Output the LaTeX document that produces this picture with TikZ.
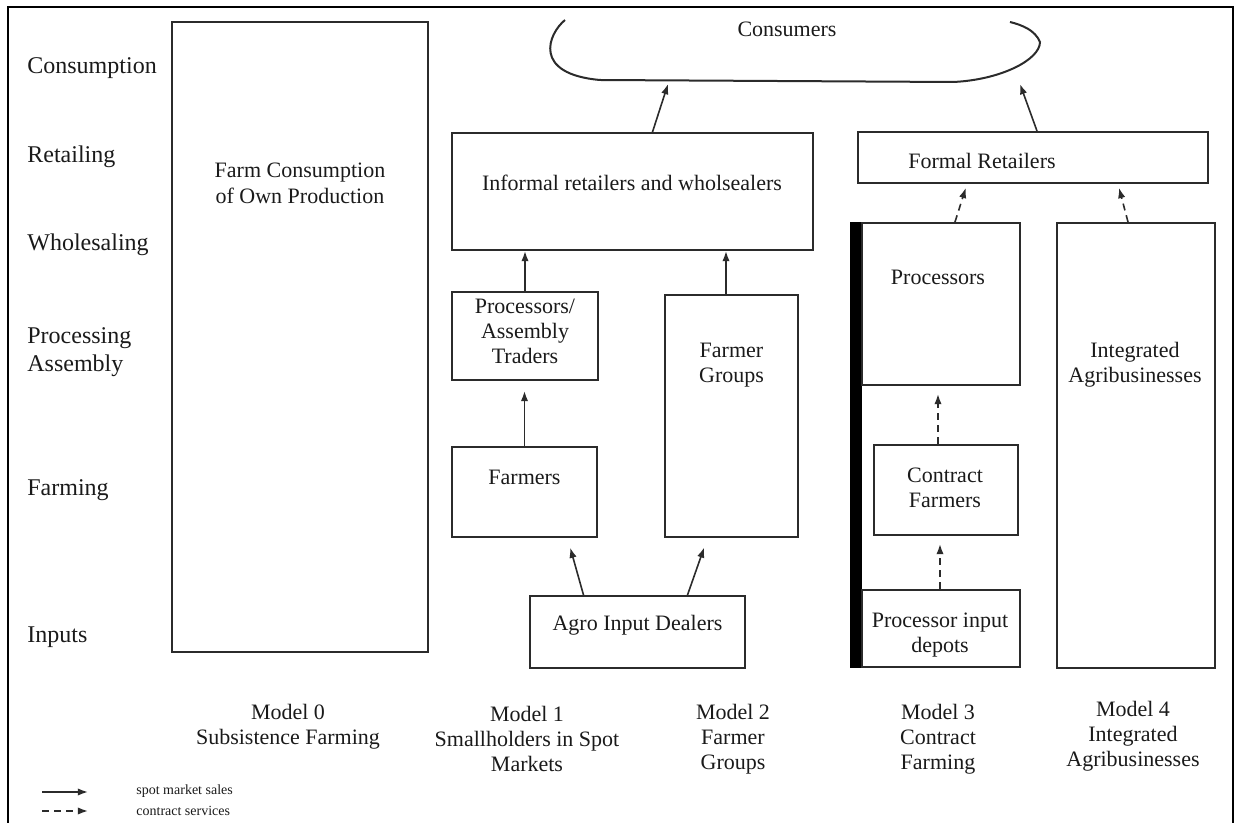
\documentclass[tikz,border=0pt]{standalone}
\usepackage{fontspec}
\setmainfont{Liberation Serif}
\usepackage{tikz}
\usetikzlibrary{arrows.meta,calc}
\definecolor{fline}{HTML}{2B2B2B}
\definecolor{ftext}{HTML}{1A1A1A}
\tikzset{
  block/.style  = {draw=fline, line width=1pt, rectangle, inner sep=0pt},
  lbl/.style    = {text=ftext, font=\fontsize{11}{12.5}\selectfont, align=center, inner sep=1pt},
  stage/.style  = {text=ftext, font=\fontsize{12}{14}\selectfont, align=left, anchor=west, inner sep=0pt},
  legtxt/.style = {text=ftext, font=\fontsize{7}{8}\selectfont, anchor=west, inner sep=0pt},
  sig/.style    = {-{Latex[length=1.8mm,width=1.3mm]}, line width=0.8pt, draw=fline},
  csig/.style   = {sig, dash pattern=on 3.5pt off 2.5pt},
}

\begin{document}
\begin{tikzpicture}[x=0.5pt,y=-0.5pt]
\useasboundingbox (0,0) rectangle (1239,823);
% frame, open at the bottom
\draw[line width=1.2pt,black] (8,823) -- (8,7) -- (1233,7) -- (1233,823);
% value-chain stages
\node[stage] (sCons) at (27,68)  {Consumption};
\node[stage] (sRet)  at (27,157) {Retailing};
\node[stage] (sWho)  at (27,245) {Wholesaling};
\node[stage] (sProc) at (27,352) {Processing\\Assembly};
\node[stage] (sFarm) at (27,490) {Farming};
\node[stage] (sInp)  at (27,637) {Inputs};
% consumers
\draw[fline,line width=1pt] (565,20) .. controls (548,34) and (532,74) .. (600,80)
  -- (953,82) .. controls (1000,80) and (1040,60) .. (1040,42)
  .. controls (1035,30) and (1022,25) .. (1010,22);
\node[lbl] (cons) at (787,29) {Consumers};
\coordinate (cin1) at (668,84);
\coordinate (cin2) at (1020,84);
% model 0
\node[block,minimum width=128pt,minimum height=315pt] (m0) at (300,337) {};
\node[lbl,font=\fontsize{11}{13}\selectfont] (m0t) at (300,183) {Farm Consumption\\of Own Production};
% model 1 and 2
\node[block,minimum width=180.5pt,minimum height=58.5pt] (inf) at (632.5,191.5) {};
\node[lbl] (inft) at (632,183) {Informal retailers and wholsealers};
\node[block,minimum width=73pt,minimum height=44pt] (proc1) at (525,336) {};
\node[lbl] (proc1t) at (525,331) {Processors/\\Assembly\\Traders};
\node[block,minimum width=72.5pt,minimum height=45pt] (farm1) at (524.5,492) {};
\node[lbl] (farm1t) at (524.5,477) {Farmers};
\node[block,minimum width=66.5pt,minimum height=121pt] (grp) at (731.5,416) {};
\node[lbl] (grpt) at (731.5,365) {Farmer\\Groups};
\node[block,minimum width=107.5pt,minimum height=36pt] (agro) at (637.5,632) {};
\node[lbl] (agrot) at (637.5,625) {Agro Input Dealers};
% model 3 and 4
\node[block,minimum width=175pt,minimum height=25.5pt] (formal) at (1033,157.5) {};
\node[lbl] (formalt) at (982,161) {Formal Retailers};
\node[fill=black,inner sep=0pt,minimum width=6pt,minimum height=223pt] (bar) at (856,445) {};
\node[block,minimum width=79pt,minimum height=81pt] (proc3) at (941,304) {};
\node[lbl] (proc3t) at (938,277) {Processors};
\node[block,minimum width=72pt,minimum height=45pt] (cfarm) at (946,490) {};
\node[lbl] (cfarmt) at (945,488) {Contract\\Farmers};
\node[block,minimum width=79pt,minimum height=38.5pt] (depot) at (941,628.5) {};
\node[lbl] (depott) at (940,635) {Processor input\\depots};
\node[block,minimum width=79pt,minimum height=222.5pt] (integ) at (1136,445.5) {};
\node[lbl] (integt) at (1135,365) {Integrated\\Agribusinesses};
% spot market flows
\draw[sig] ([xshift=10pt]inf.north) -- (cin1);
\draw[sig] ([xshift=2pt]formal.north) -- (cin2);
\draw[sig] (proc1.north) -- (proc1.north |- inf.south);
\draw[sig] ([xshift=-2.75pt]grp.north) -- ([xshift=-2.75pt]grp.north |- inf.south);
\draw[sig,shorten >=5pt] (farm1.north) -- (farm1.north |- proc1.south);
\draw[sig,shorten >=5pt] ([xshift=-27pt]agro.north) -- ([xshift=-35pt]agro.north |- farm1.south);
\draw[sig,shorten >=5pt] ([xshift=25pt]agro.north) -- ([xshift=35pt]agro.north |- grp.south);
% contract flows
\draw[csig,shorten >=2pt] ([xshift=7pt]proc3.north) -- ([xshift=-33pt]formal.south);
\draw[csig,shorten >=2pt] ([xshift=-4pt]integ.north) -- ([xshift=42.5pt]formal.south);
\draw[csig,shorten >=4pt] ([xshift=-4pt]cfarm.north) -- ([xshift=-4pt]cfarm.north |- proc3.south);
\draw[csig,shorten >=4pt] ([xshift=-0.5pt]depot.north) -- ([xshift=-0.5pt]depot.north |- cfarm.south);
% model names
\node[lbl] (n0) at (288,727) {Model 0\\Subsistence Farming};
\node[lbl] (n1) at (527,739) {Model 1\\Smallholders in Spot\\Markets};
\node[lbl] (n2) at (733,739) {Model 2\\Farmer\\Groups};
\node[lbl] (n3) at (938,739) {Model 3\\Contract\\Farming};
\node[lbl] (n4) at (1133,736) {Model 4\\Integrated\\Agribusinesses};
% legend
\coordinate (l1a) at (42,792); \coordinate (l1b) at (88,792);
\coordinate (l2a) at (42,811); \coordinate (l2b) at (88,811);
\draw[sig] (l1a) -- (l1b);
\draw[csig] (l2a) -- (l2b);
\node[legtxt] (lt1) at (136,791) {spot market sales};
\node[legtxt] (lt2) at (136,811) {contract services};
\end{tikzpicture}
\end{document}
